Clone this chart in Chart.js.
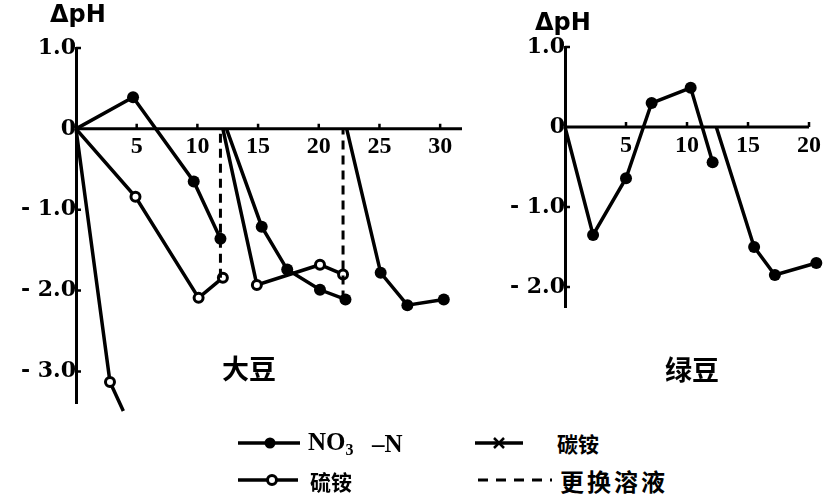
<!DOCTYPE html>
<html>
<head>
<meta charset="utf-8">
<script src="https://cdn.jsdelivr.net/npm/chart.js@4"></script>
<style>
  html, body { margin: 0; padding: 0; background: #fff; }
  #wrap { position: relative; width: 826px; height: 495px; overflow: hidden; background: #fff; }
  canvas { position: absolute; top: 0; }
  .t { position: absolute; line-height: 1; transform: translateY(-50%); color: #000; white-space: nowrap; }
  .dp { font: bold 24px "DejaVu Sans"; }
  .cn { font-family: "Noto Sans CJK SC"; font-weight: 700; }
  .ser { font-family: "Liberation Serif"; font-weight: bold; }
  svg { position: absolute; overflow: visible; }
</style>
</head>
<body>
<div id="wrap">
  <canvas id="soy" width="470" height="420" style="left:0;width:470px;height:420px"></canvas>
  <canvas id="mung" width="356" height="410" style="left:470px;width:356px;height:410px"></canvas>

  <div class="t dp" style="left:50px;top:14px">ΔpH</div>
  <div class="t dp" style="left:535px;top:22px">ΔpH</div>
  <div class="t cn" style="left:222px;top:367px;font-size:27px">大豆</div>
  <div class="t cn" style="left:665px;top:368px;font-size:27px">绿豆</div>

  <!-- legend -->
  <svg width="70" height="20" style="left:236px;top:433px">
    <line x1="2" y1="10" x2="64" y2="10" stroke="#000" stroke-width="3.5"/>
    <circle cx="34" cy="10" r="5.5" fill="#000"/>
  </svg>
  <div class="t ser" style="left:308px;top:443px;font-size:25px">NO<span style="font-size:16px;vertical-align:-5px">3</span></div>
  <div class="t ser" style="left:372px;top:443px;font-size:25px">–N</div>

  <svg width="60" height="20" style="left:473px;top:433px">
    <line x1="2" y1="10" x2="50" y2="10" stroke="#000" stroke-width="3.5"/>
    <line x1="21" y1="5" x2="31" y2="15" stroke="#000" stroke-width="2.5"/>
    <line x1="31" y1="5" x2="21" y2="15" stroke="#000" stroke-width="2.5"/>
  </svg>
  <div class="t cn" style="left:557px;top:443px;font-size:21px">碳铵</div>

  <svg width="70" height="20" style="left:236px;top:470px">
    <line x1="2" y1="10" x2="62" y2="10" stroke="#000" stroke-width="3.5"/>
    <circle cx="36" cy="10" r="4.5" fill="#fff" stroke="#000" stroke-width="3"/>
  </svg>
  <div class="t cn" style="left:310px;top:481px;font-size:21px">硫铵</div>

  <svg width="80" height="20" style="left:476px;top:470px">
    <line x1="2" y1="10" x2="76" y2="10" stroke="#000" stroke-width="3" stroke-dasharray="10,8"/>
  </svg>
  <div class="t cn" style="left:560px;top:481px;font-size:24px;letter-spacing:3px">更换溶液</div>
</div>

<script>
// ---------- data ----------
// 大豆 (soybean) panel, x = time, y = ΔpH ; null y = break where the solution was replaced
const soyNO3X = [0, 4.7, 9.7, 11.9, 12.0, 12.4, 15.3, 17.4, 20.1, 22.2, 22.2, 22.3, 25.1, 27.3, 30.3];
const soyNO3Y = [0, 0.39, -0.65, -1.36, null, 0, -1.21, -1.74, -1.99, -2.11, null, 0, -1.78, -2.18, -2.11];

const soyASX = [0, 4.9, 10.1, 12.1, 12.1, 12.1, 14.9, 20.1, 22.0];     // 硫铵
const soyASY = [0, -0.84, -2.09, -1.84, null, 0, -1.93, -1.68, -1.80];

const soyABX = [0, 2.8, 3.9];                                            // 碳铵
const soyABY = [0, -3.13, -3.49];

const changeX1 = [11.9, 11.9];                                           // 更换溶液
const changeY1 = [-1.84, 0];
const changeX2 = [22.0, 22.0];
const changeY2 = [-2.11, 0];

// 绿豆 (mung bean) panel
const mungNO3X = [0, 2.3, 5.0, 7.1, 10.3, 12.1, 12.2, 12.4, 15.5, 17.2, 20.6];
const mungNO3Y = [0, -1.35, -0.64, 0.30, 0.49, -0.44, null, 0, -1.50, -1.85, -1.70];

// tick values / labels
const soyXTicks = [5, 10, 15, 20, 25, 30];
const soyYTicks = [1, 0, -1, -2, -3];
const soyYLabels = ['1.0', '0', '- 1.0', '- 2.0', '- 3.0'];
const mungXTicks = [5, 10, 15, 20];
const mungYTicks = [1, 0, -1, -2];
const mungYLabels = ['1.0', '0', '- 1.0', '- 2.0'];

// ---------- helpers ----------
const pts = (xs, ys) => xs.map((x, i) => ({ x: x, y: ys[i] }));
const markerR = (r) => (ctx) => {
  const raw = ctx.raw;
  if (!raw || raw.y === 0 || raw.y === null) return 0;
  return r;
};

// x axis line (to a chosen end value) + small inward tick marks
const axisTicks = {
  id: 'axisTicks',
  afterDatasetsDraw(chart, args, opts) {
    const { ctx, scales: { x, y } } = chart;
    const y0 = y.getPixelForValue(0);
    const x0 = x.getPixelForValue(0);
    ctx.save();
    ctx.strokeStyle = '#000';
    ctx.lineWidth = 3;
    ctx.beginPath();
    ctx.moveTo(x0, y0);
    ctx.lineTo(x.getPixelForValue(opts.xEnd), y0);
    ctx.stroke();
    ctx.lineWidth = 2.5;
    ctx.beginPath();
    x.ticks.forEach(t => {
      const px = x.getPixelForValue(t.value);
      ctx.moveTo(px, y0); ctx.lineTo(px, y0 - 5);
    });
    y.ticks.forEach(t => {
      if (t.value === 0) return;
      const py = y.getPixelForValue(t.value);
      ctx.moveTo(x0, py); ctx.lineTo(x0 + 5, py);
    });
    ctx.stroke();
    ctx.restore();
  }
};

function lineDs(data, opts) {
  return Object.assign({
    data: data,
    borderColor: '#000',
    borderWidth: 3.5,
    pointBorderColor: '#000',
    pointBackgroundColor: '#000',
    pointBorderWidth: 0,
    pointRadius: 0,
    tension: 0,
    spanGaps: false,
    clip: false,
    fill: false
  }, opts);
}

function makeOptions(cfg) {
  return {
    responsive: false,
    animation: false,
    events: [],
    layout: { padding: cfg.padding },
    plugins: { legend: { display: false }, tooltip: { enabled: false }, axisTicks: { xEnd: cfg.xEnd } },
    scales: {
      x: {
        type: 'linear', min: cfg.xMin, max: cfg.xMax,
        position: { y: 0 },
        grid: { display: false, drawTicks: false },
        border: { display: false },
        afterBuildTicks: (s) => { s.ticks = cfg.xTicks.map(v => ({ value: v })); },
        ticks: {
          color: '#000', padding: 4, maxRotation: 0, autoSkip: false,
          font: { family: 'Liberation Serif', weight: 'bold', size: 24 },
          callback: (v) => String(v)
        }
      },
      y: {
        type: 'linear', min: cfg.yMin, max: cfg.yMax,
        position: { x: 0 },
        grid: { display: false, drawTicks: false },
        border: { display: true, color: '#000', width: 3 },
        afterBuildTicks: (s) => { s.ticks = cfg.yTicks.map(v => ({ value: v })); },
        ticks: {
          color: '#000', padding: cfg.yPad, autoSkip: false,
          font: { family: 'DejaVu Serif', weight: 'bold', size: 22 },
          callback: (v) => { const i = cfg.yTicks.indexOf(v); return i >= 0 ? cfg.yLabels[i] : ''; }
        }
      }
    }
  };
}

// ---------- 大豆 ----------
const soyChart = new Chart(document.getElementById('soy'), {
  type: 'line',
  data: {
    datasets: [
      lineDs(pts(changeX1, changeY1), { label: '更换溶液', borderWidth: 3, borderDash: [9, 6] }),
      lineDs(pts(changeX2, changeY2), { label: '更换溶液', borderWidth: 3, borderDash: [9, 6] }),
      lineDs(pts(soyASX, soyASY), {
        label: '硫铵', pointRadius: markerR(4.5), pointBackgroundColor: '#fff', pointBorderWidth: 3
      }),
      lineDs(pts(soyABX, soyABY), {
        label: '碳铵', pointBackgroundColor: '#fff', pointBorderWidth: 3,
        pointRadius: (ctx) => (ctx.dataIndex === soyABX.length - 1 || ctx.dataIndex === 0) ? 0 : 4.5
      }),
      lineDs(pts(soyNO3X, soyNO3Y), { label: 'NO3-N', pointRadius: markerR(6) })
    ]
  },
  options: makeOptions({
    padding: { left: 76, top: 48, right: 8, bottom: 8 },
    xMin: 0, xMax: 31.8, xEnd: 31.8, yMin: -3.4, yMax: 1.0,
    xTicks: soyXTicks, yTicks: soyYTicks, yLabels: soyYLabels, yPad: 3
  }),
  plugins: [axisTicks]
});

// ---------- 绿豆 ----------
new Chart(document.getElementById('mung'), {
  type: 'line',
  data: {
    datasets: [
      lineDs(pts(mungNO3X, mungNO3Y), { label: 'NO3-N', pointRadius: markerR(6) })
    ]
  },
  options: makeOptions({
    padding: { left: 95, top: 47, right: 3, bottom: 103 },
    xMin: 0, xMax: 20.9, xEnd: 20, yMin: -2.25, yMax: 1.0,
    xTicks: mungXTicks, yTicks: mungYTicks, yLabels: mungYLabels, yPad: 10
  }),
  plugins: [axisTicks]
});
</script>
</body>
</html>
